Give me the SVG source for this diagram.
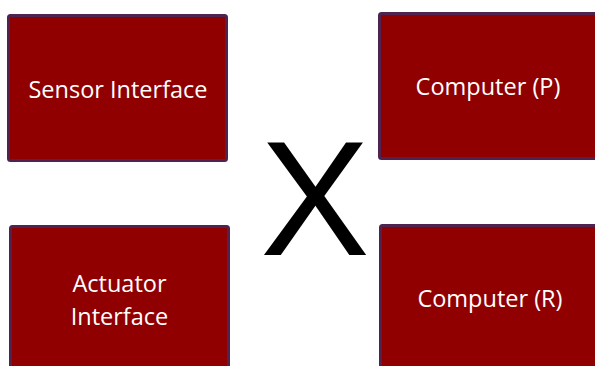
<svg xmlns="http://www.w3.org/2000/svg" width="595" height="366" viewBox="0 0 595 366">
  <style>
    .box { fill: #910000; stroke: #4e2350; stroke-width: 3; }
    .lbl { fill: #ffffff; font-family: "Open Sans", "Noto Sans", sans-serif; font-size: 23.5px; text-anchor: middle; }
    .big { fill: #000000; font-family: "Liberation Sans", Arial, sans-serif; font-size: 164px; text-anchor: middle; }
  </style>
  <rect width="595" height="366" fill="#ffffff"/>
  <g id="sensor-interface">
    <rect class="box" x="8.5" y="15.5" width="218" height="145" rx="2"/>
    <text class="lbl" x="118" y="98">Sensor Interface</text>
  </g>
  <g id="computer-p">
    <rect class="box" x="379.5" y="13.5" width="230" height="145" rx="2"/>
    <text class="lbl" x="488" y="95">Computer (P)</text>
  </g>
  <g id="actuator-interface">
    <rect class="box" x="10.5" y="226.5" width="218" height="160" rx="2"/>
    <text class="lbl" x="119.5" y="292">Actuator</text>
    <text class="lbl" x="119.5" y="325">Interface</text>
  </g>
  <g id="computer-r">
    <rect class="box" x="380.5" y="225.5" width="230" height="160" rx="2"/>
    <text class="lbl" x="490" y="307">Computer (R)</text>
  </g>
  <g id="connectors"></g>
  <text class="big" x="315" y="255">X</text>
</svg>
